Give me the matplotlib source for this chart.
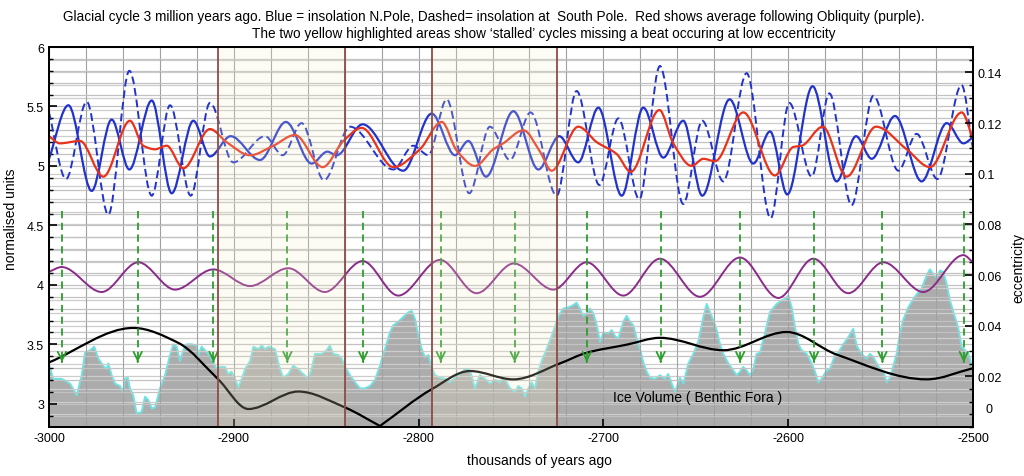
import numpy as np
import matplotlib.pyplot as plt
from matplotlib.path import Path
from matplotlib.patches import PathPatch
from matplotlib.ticker import MultipleLocator
from matplotlib.transforms import blended_transform_factory

plt.rcParams['font.family'] = ['Liberation Sans', 'DejaVu Sans']

# insolation at the north pole (solid blue), turning points
north_kyr = [-3000, -2989.5, -2976.9, -2966.1, -2956.5, -2944.4, -2933.6, -2921.9, -2912.9, -2901.7,
             -2885.8, -2871.8, -2857.9, -2849.4, -2844.3, -2830.3, -2808.3, -2792.9, -2780.3, -2773.1,
             -2763.5, -2748.7, -2735.2, -2723.9, -2713.6, -2702.7, -2690.1, -2678.4, -2667.6, -2656.8,
             -2646.5, -2631.7, -2618.9, -2609.8, -2600.5, -2586.8, -2573.8, -2563.3, -2554.8, -2542.2,
             -2527.8, -2514.2, -2505.2, -2500]
north = [5.06, 5.51, 4.79, 5.39, 4.97, 5.55, 4.77, 5.38, 5.08, 5.25,
         5.05, 5.37, 5.02, 5.12, 5.09, 5.35, 4.96, 5.44, 5.09, 5.21,
         4.91, 5.46, 4.97, 5.25, 5.03, 5.49, 4.75, 5.49, 5.07, 5.38,
         4.75, 5.56, 5.02, 5.29, 4.76, 5.67, 4.87, 5.25, 5.06, 5.42,
         4.87, 5.36, 5.19, 5.24]

# insolation at the south pole (dashed blue)
south_kyr = [-3000, -2990.8, -2979.6, -2967.9, -2956.5, -2944.4, -2934.5, -2923.3, -2912.9, -2900.3,
             -2883.1, -2873.6, -2863.3, -2851.2, -2837.1, -2813.7, -2802.9, -2794.7, -2784.8, -2772.6,
             -2761.4, -2750.6, -2739.4, -2725.3, -2714.5, -2702.2, -2691.9, -2680.6, -2669.4, -2656.8,
             -2646.5, -2635.1, -2622.5, -2609.5, -2599.4, -2587.3, -2577.7, -2565.7, -2553.9, -2540.4,
             -2530.5, -2519.3, -2506.2, -2500]
south = [5.45, 4.89, 5.54, 4.59, 5.80, 4.75, 5.51, 4.75, 5.53, 5.03,
         5.25, 5.09, 5.36, 4.88, 5.33, 4.97, 5.17, 5.09, 5.56, 4.77,
         5.33, 5.05, 5.45, 4.75, 5.63, 4.84, 5.40, 4.72, 5.84, 4.68,
         5.38, 4.87, 5.78, 4.56, 5.53, 4.91, 5.61, 4.67, 5.59, 4.96,
         5.27, 4.89, 5.68, 5.14]

# average (red)
avg_kyr = [-3000, -2994.1, -2983.2, -2970.6, -2956.2, -2949.0, -2942.6, -2936.3, -2927.3, -2912.9,
           -2903.9, -2891.2, -2878.6, -2866.9, -2851.9, -2840.7, -2830.8, -2813.7, -2799.3, -2787.5,
           -2779.4, -2769.5, -2759.6, -2754.2, -2743.3, -2734.3, -2728.0, -2713.6, -2703.6, -2692.8,
           -2685.2, -2669.7, -2662.2, -2652.2, -2645.9, -2639.6, -2624.3, -2607.2, -2597.2, -2592.7,
           -2581.3, -2568.4, -2552.5, -2535.9, -2523.3, -2506.1, -2500]
avg = [5.25, 5.19, 5.21, 4.91, 5.38, 5.17, 5.14, 5.17, 4.98, 5.31,
       5.20, 5.09, 5.17, 5.26, 4.99, 5.21, 5.32, 4.99, 5.14, 5.37,
       5.13, 5.00, 5.14, 5.19, 5.30, 5.12, 4.96, 5.33, 5.20, 5.10,
       4.95, 5.47, 5.19, 5.00, 5.06, 5.04, 5.45, 4.92, 5.16, 5.17,
       5.33, 4.91, 5.33, 5.14, 4.99, 5.45, 5.23]

# obliquity (purple)
obl_kyr = [-3000, -2993.1, -2971.5, -2951.7, -2931.8, -2911.1, -2891.2, -2870.5, -2850.7, -2830.3,
           -2811.0, -2788.4, -2768.6, -2748.5, -2727.1, -2709.1, -2689.2, -2669.4, -2647.7, -2626.1,
           -2605.3, -2586.4, -2567.5, -2548.5, -2526.9, -2505.2, -2500]
obl = [4.11, 4.15, 3.94, 4.19, 3.96, 4.13, 3.99, 4.14, 3.94, 4.20,
       3.91, 4.21, 3.93, 4.18, 3.96, 4.19, 3.91, 4.22, 3.90, 4.23,
       3.89, 4.22, 3.93, 4.19, 3.94, 4.25, 4.19]

# eccentricity (black, right axis)
ecc_kyr = [-3000, -2954.4, -2930.0, -2908.4, -2892.1, -2865.1, -2839.8, -2820.9, -2792.9, -2772.2,
           -2748.7, -2723.5, -2709.1, -2687.4, -2669.4, -2635.1, -2600.8, -2573.8, -2525.1, -2500]
ecc = [0.0255, 0.0391, 0.0332, 0.0188, 0.0071, 0.0140, 0.0077, 0.0004, 0.0149, 0.0221,
       0.0188, 0.0251, 0.0293, 0.0325, 0.0352, 0.0303, 0.0375, 0.0286, 0.0188, 0.0232]
ecc_corner = [-2820.9]

# ice volume (benthic forams)
ice_kyr = [-3000, -2997.7, -2993.1, -2988.6, -2985.0, -2982.3, -2980.5, -2977.8, -2975.5, -2973.3,
           -2970.6, -2968.8, -2967.9, -2966.1, -2964.3, -2961.6, -2959.8, -2958.9, -2957.4, -2956.2,
           -2954.4, -2952.6, -2949.9, -2948.0, -2946.2, -2944.4, -2942.6, -2939.9, -2937.2, -2934.5,
           -2932.7, -2930.9, -2929.1, -2927.3, -2925.5, -2922.8, -2920.1, -2919.2, -2917.4, -2915.6,
           -2913.8, -2911.1, -2909.3, -2907.5, -2904.8, -2903.0, -2901.2, -2899.4, -2897.5, -2895.7,
           -2893.9, -2891.2, -2889.4, -2886.7, -2884.9, -2883.1, -2881.3, -2877.7, -2875.0, -2873.2,
           -2870.5, -2867.8, -2865.1, -2862.4, -2859.7, -2857.9, -2856.1, -2852.5, -2849.8, -2848.0,
           -2846.2, -2843.4, -2841.6, -2839.8, -2837.1, -2834.4, -2831.7, -2829.0, -2826.3, -2823.6,
           -2820.9, -2818.2, -2815.5, -2813.7, -2811.0, -2808.3, -2805.5, -2803.7, -2801.9, -2800.1,
           -2798.3, -2796.5, -2794.7, -2793.3, -2791.1, -2788.4, -2785.7, -2783.0, -2780.3, -2777.6,
           -2774.9, -2772.2, -2769.5, -2766.8, -2764.1, -2761.4, -2758.6, -2755.9, -2754.1, -2752.3,
           -2750.5, -2747.8, -2746.0, -2744.2, -2742.4, -2740.6, -2738.8, -2737.0, -2735.2, -2733.4,
           -2730.7, -2728.0, -2725.3, -2723.5, -2721.7, -2719.0, -2716.3, -2714.5, -2712.7, -2710.9,
           -2709.1, -2707.3, -2705.4, -2703.6, -2701.8, -2700.0, -2697.3, -2695.5, -2693.7, -2691.9,
           -2689.2, -2687.4, -2685.6, -2683.8, -2682.0, -2680.2, -2678.4, -2676.6, -2674.8, -2672.1,
           -2669.4, -2666.7, -2664.9, -2663.0, -2661.2, -2658.6, -2656.7, -2654.0, -2651.3, -2648.6,
           -2645.9, -2644.1, -2642.3, -2640.5, -2638.7, -2636.9, -2635.1, -2632.4, -2629.7, -2627.9,
           -2626.1, -2624.3, -2622.5, -2620.7, -2618.9, -2617.1, -2615.3, -2612.6, -2609.9, -2606.2,
           -2603.5, -2601.7, -2599.9, -2598.1, -2596.3, -2594.5, -2592.7, -2590.0, -2587.3, -2585.5,
           -2583.7, -2581.9, -2579.2, -2577.4, -2574.7, -2572.9, -2570.2, -2567.5, -2564.8, -2563.0,
           -2560.3, -2557.6, -2555.7, -2553.9, -2552.1, -2550.3, -2548.5, -2546.7, -2544.9, -2543.1,
           -2541.3, -2539.5, -2537.7, -2535.0, -2532.3, -2530.5, -2527.8, -2525.1, -2523.3, -2521.5,
           -2519.7, -2517.9, -2516.1, -2514.3, -2512.5, -2509.8, -2508.0, -2506.2, -2504.3, -2502.5,
           -2500]
ice = [3.33, 3.21, 3.21, 3.17, 3.07, 3.24, 3.43, 3.45, 3.48, 3.38,
       3.32, 3.29, 3.34, 3.24, 3.17, 3.15, 3.10, 3.21, 3.22, 3.13,
       3.07, 2.92, 2.93, 3.06, 3.03, 2.96, 2.97, 3.13, 3.24, 3.41,
       3.50, 3.48, 3.36, 3.45, 3.50, 3.50, 3.49, 3.41, 3.48, 3.45,
       3.42, 3.35, 3.29, 3.31, 3.31, 3.25, 3.27, 3.21, 3.14, 3.21,
       3.29, 3.36, 3.48, 3.46, 3.49, 3.46, 3.48, 3.46, 3.29, 3.22,
       3.25, 3.32, 3.29, 3.25, 3.21, 3.29, 3.42, 3.42, 3.45, 3.49,
       3.42, 3.41, 3.38, 3.31, 3.24, 3.18, 3.13, 3.13, 3.15, 3.20,
       3.32, 3.46, 3.60, 3.66, 3.69, 3.73, 3.77, 3.78, 3.71, 3.57,
       3.46, 3.39, 3.41, 3.32, 3.24, 3.22, 3.21, 3.18, 3.22, 3.25,
       3.29, 3.28, 3.13, 3.24, 3.21, 3.17, 3.20, 3.18, 3.22, 3.18,
       3.13, 3.10, 3.15, 3.13, 3.06, 3.13, 3.18, 3.13, 3.27, 3.36,
       3.46, 3.57, 3.69, 3.76, 3.80, 3.81, 3.83, 3.85, 3.80, 3.74,
       3.76, 3.80, 3.76, 3.66, 3.52, 3.60, 3.59, 3.62, 3.57, 3.55,
       3.69, 3.74, 3.69, 3.66, 3.55, 3.46, 3.35, 3.27, 3.22, 3.21,
       3.24, 3.21, 3.25, 3.17, 3.10, 3.22, 3.17, 3.34, 3.42, 3.53,
       3.73, 3.84, 3.77, 3.70, 3.62, 3.50, 3.42, 3.34, 3.28, 3.24,
       3.27, 3.31, 3.28, 3.24, 3.29, 3.42, 3.43, 3.59, 3.77, 3.84,
       3.87, 3.88, 3.91, 3.81, 3.64, 3.50, 3.45, 3.42, 3.34, 3.27,
       3.18, 3.21, 3.28, 3.29, 3.41, 3.43, 3.50, 3.56, 3.63, 3.49,
       3.42, 3.38, 3.42, 3.39, 3.34, 3.29, 3.27, 3.18, 3.22, 3.32,
       3.42, 3.59, 3.71, 3.81, 3.88, 3.92, 3.97, 4.08, 4.13, 4.09,
       4.06, 4.12, 4.11, 4.01, 3.87, 3.73, 3.64, 3.48, 3.45, 3.42,
       3.30]

arrow_kyr = [-2993, -2952, -2911, -2871, -2830, -2788, -2748, -2709, -2669, -2626, -2586, -2549, -2505]
arrow_top = 4.62
arrow_tip = 3.35

stalled = [(-2908.5, -2840.0), (-2793.0, -2725.0)]

title1 = ('Glacial cycle 3 million years ago. Blue = insolation N.Pole, Dashed= insolation at  South Pole.  '
          'Red shows average following Obliquity (purple).')
title2 = 'The two yellow highlighted areas show \u2018stalled\u2019 cycles missing a beat occuring at low eccentricity'

ecc_ticks = [0.02, 0.04, 0.06, 0.08, 0.1, 0.12, 0.14]
ecc_labels = ['0.02', '0.04', '0.06', '0.08', '0.1', '0.12', '0.14']

y_lo, y_hi = 2.805, 6.0
e_lo, e_hi = 0.0, 0.15


def smooth_path(xs, ys, corners=()):
    # cubic hermite through the read points, drawn as bezier segments by matplotlib
    x = np.asarray(xs, float)
    y = np.asarray(ys, float)
    h = np.diff(x)
    d = np.diff(y) / h
    n = len(x)
    m = np.zeros(n)
    m[0], m[-1] = d[0], d[-1]
    for k in range(1, n - 1):
        if d[k - 1] * d[k] > 0:
            w1 = 2 * h[k] + h[k - 1]
            w2 = h[k] + 2 * h[k - 1]
            m[k] = (w1 + w2) / (w1 / d[k - 1] + w2 / d[k])
    m_in, m_out = m.copy(), m.copy()
    for k in range(1, n - 1):
        if x[k] in corners:
            m_in[k], m_out[k] = d[k - 1], d[k]
    verts = [(x[0], y[0])]
    codes = [Path.MOVETO]
    for k in range(n - 1):
        verts += [(x[k] + h[k] / 3, y[k] + m_out[k] * h[k] / 3),
                  (x[k + 1] - h[k] / 3, y[k + 1] - m_in[k + 1] * h[k] / 3),
                  (x[k + 1], y[k + 1])]
        codes += [Path.CURVE4] * 3
    return Path(verts, codes)


fig = plt.figure(figsize=(10.24, 4.77), dpi=100)
ax = fig.add_axes([49 / 1024, 1 - 428 / 477, 924 / 1024, 380 / 477])
ax2 = ax.twinx()

ax.set_xlim(-3000, -2500)
ax.set_ylim(y_lo, y_hi)
ax2.set_ylim(e_lo, e_hi)

# grids
ax.xaxis.set_major_locator(MultipleLocator(100))
ax.xaxis.set_minor_locator(MultipleLocator(20))
ax.yaxis.set_major_locator(MultipleLocator(0.5))
ax.yaxis.set_minor_locator(MultipleLocator(0.1))
ax2.yaxis.set_minor_locator(MultipleLocator(0.005))
ax.set_axisbelow('line')
ax.grid(which='both', axis='x', color='#a0a0a0', lw=0.8)
ax.grid(which='both', axis='y', color='#c2c2c2', lw=0.9)
right_grid = blended_transform_factory(ax.transAxes, ax2.transData)
for v in np.arange(0.005, e_hi, 0.005):
    ax.plot([0, 1], [v, v], transform=right_grid, color='#cdcdcd', lw=0.9, zorder=1.5)

# ice volume
ax.fill_between(ice_kyr, 0, ice, color='#acacac', lw=0, zorder=1)
ax.plot(ice_kyr, ice, color='#6ee3e3', lw=1.4, zorder=1.2)
ax.text(-2649, 3.06, 'Ice Volume ( Benthic Fora )', ha='center', va='center', fontsize=10, zorder=4)

# eccentricity on right scale
ax.add_patch(PathPatch(smooth_path(ecc_kyr, ecc, ecc_corner), transform=ax2.transData,
                       facecolor='none', edgecolor='black', lw=1.6, zorder=2.2))

# obliquity
ax.add_patch(PathPatch(smooth_path(obl_kyr, obl), facecolor='none', edgecolor='#8a2b8a', lw=1.4, zorder=2))

# insolation
ax.add_patch(PathPatch(smooth_path(north_kyr, north), facecolor='none', edgecolor='#2233cc', lw=1.6, zorder=2))
ax.add_patch(PathPatch(smooth_path(south_kyr, south), facecolor='none', edgecolor='#2233cc', lw=1.4,
                       linestyle=(0, (4, 2)), zorder=2))
ax.add_patch(PathPatch(smooth_path(avg_kyr, avg), facecolor='none', edgecolor='#e8321c', lw=1.6, zorder=2.1))

# green arrows
green = '#2b9e2b'
for xk in arrow_kyr:
    ax.plot([xk, xk], [arrow_top, arrow_tip], color=green, lw=1.3, linestyle=(0, (4, 2.5)), zorder=2.3)
    ax.annotate('', xy=(xk, arrow_tip), xytext=(xk, arrow_tip + 0.03),
                arrowprops=dict(arrowstyle='->,head_length=0.6,head_width=0.3', color=green, lw=1.3),
                zorder=2.3)

# stalled periods
for x0, x1 in stalled:
    ax.axvspan(x0, x1, facecolor='#f4edc9', alpha=0.2, lw=0, zorder=3)
    ax.axvline(x0, color='#8e4c46', lw=1.3, zorder=3.1)
    ax.axvline(x1, color='#8e4c46', lw=1.3, zorder=3.1)

# ticks and labels
ax.tick_params(which='both', direction='in', labelsize=9, top=False, right=False)
ax.tick_params(which='major', length=6, width=1.2)
ax.tick_params(which='minor', length=3, width=1.0)
ax.tick_params(axis='x', which='minor', length=0)
ax2.tick_params(which='both', direction='in', labelsize=9)
ax2.tick_params(which='major', length=6, width=1.2)
ax2.tick_params(which='minor', length=3, width=1.0)
ax.set_yticks([3, 3.5, 4, 4.5, 5, 5.5, 6])
ax.set_yticklabels(['3', '3.5', '4', '4.5', '5', '5.5', '6'])
ax.set_xticks([-3000, -2900, -2800, -2700, -2600, -2500])
ax.set_xticklabels(['-3000', '-2900', '-2800', '-2700', '-2600', '-2500'])
ax2.set_yticks(ecc_ticks)
ax2.set_yticklabels(ecc_labels)
# the zero label sits a little above its tick, clear of the x labels
ax2.text(1.013, 0.007, '0', transform=blended_transform_factory(ax2.transAxes, ax2.transData),
         ha='left', va='center', fontsize=9)
for sp in list(ax.spines.values()) + list(ax2.spines.values()):
    sp.set_linewidth(1.4)

ax.set_ylabel('normalised units', fontsize=10)
ax.yaxis.set_label_coords(-0.034, 0.55)
ax2.set_ylabel('eccentricity', fontsize=10)
ax2.yaxis.set_label_coords(1.042, 0.42)
ax.set_xlabel('thousands of years ago', fontsize=10)
ax.xaxis.set_label_coords(0.531, -0.068)

narrow = ['Liberation Sans Narrow', 'Liberation Sans', 'DejaVu Sans']
fig.text(494 / 1024, 1 - 17 / 477, title1, ha='center', va='center', fontsize=9.8, family=narrow)
fig.text(544 / 1024, 1 - 34 / 477, title2, ha='center', va='center', fontsize=9.8, family=narrow)

fig.savefig('out.png', dpi=100, facecolor='white')
